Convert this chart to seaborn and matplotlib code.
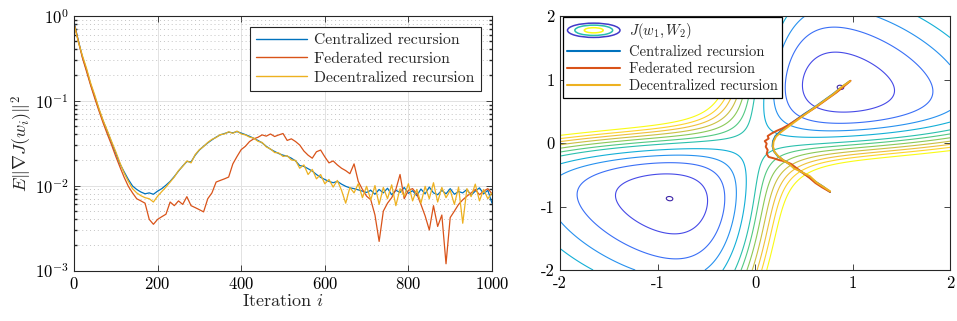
import numpy as np
import pandas as pd
import matplotlib
matplotlib.use("Agg")
import matplotlib.pyplot as plt
import seaborn as sns
from matplotlib.colors import LinearSegmentedColormap
from matplotlib.lines import Line2D
from matplotlib.patches import Ellipse
from matplotlib.legend_handler import HandlerBase
from matplotlib.ticker import LogLocator, NullFormatter, FixedLocator

# ------------------ DATA: left panel (mean-square gradient norm) ------------------
iters = list(range(0, 1001, 10))

centralized = [
    0.85, 0.52, 0.33, 0.23, 0.155, 0.11, 0.078, 0.057, 0.043, 0.032,
    0.024, 0.018, 0.0145, 0.0118, 0.0099, 0.0090, 0.0084, 0.0080, 0.0082, 0.0079,
    0.0086, 0.0092, 0.0101, 0.0112, 0.0128, 0.0148, 0.0170, 0.0192, 0.0190, 0.0228,
    0.0262, 0.0290, 0.0318, 0.0345, 0.0372, 0.0395, 0.0410, 0.0425, 0.0418, 0.0432,
    0.0415, 0.0398, 0.0380, 0.0360, 0.0340, 0.0318, 0.0290, 0.0268, 0.0252, 0.0238,
    0.0228, 0.0222, 0.0210, 0.0195, 0.0172, 0.0168, 0.0158, 0.0148, 0.0135, 0.0125,
    0.0118, 0.0112, 0.0108, 0.0112, 0.0104, 0.0098, 0.0094, 0.0092, 0.0089, 0.0086,
    0.0083, 0.0088, 0.0079, 0.0090, 0.0082, 0.0093, 0.0078, 0.0088, 0.0083, 0.0095,
    0.0081, 0.0087, 0.0076, 0.0091, 0.0080, 0.0096, 0.0082, 0.0078, 0.0088, 0.0080,
    0.0092, 0.0079, 0.0085, 0.0082, 0.0090, 0.0077, 0.0086, 0.0094, 0.0080, 0.0088,
    0.0062,
]

federated = [
    0.82, 0.51, 0.32, 0.22, 0.150, 0.105, 0.075, 0.054, 0.040, 0.030,
    0.022, 0.0165, 0.0125, 0.0098, 0.0082, 0.0070, 0.0066, 0.0062, 0.0040, 0.0035,
    0.0040, 0.0043, 0.0046, 0.0064, 0.0058, 0.0066, 0.0060, 0.0074, 0.0058, 0.0055,
    0.0052, 0.0049, 0.0070, 0.0082, 0.0110, 0.0115, 0.0120, 0.0126, 0.0180, 0.0220,
    0.0265, 0.0290, 0.0330, 0.0355, 0.0370, 0.0395, 0.0382, 0.0405, 0.0378, 0.0395,
    0.0410, 0.0340, 0.0355, 0.0330, 0.0300, 0.0255, 0.0228, 0.0210, 0.0250, 0.0262,
    0.0218, 0.0185, 0.0195, 0.0175, 0.0160, 0.0150, 0.0138, 0.0180, 0.0112, 0.0090,
    0.0075, 0.0068, 0.0045, 0.0022, 0.0050, 0.0062, 0.0072, 0.0090, 0.0135, 0.0070,
    0.0088, 0.0092, 0.0080, 0.0060, 0.0044, 0.0030, 0.0058, 0.0033, 0.0045, 0.0012,
    0.0042, 0.0050, 0.0060, 0.0068, 0.0075, 0.0082, 0.0090, 0.0078, 0.0086, 0.0092,
    0.0080,
]

decentralized = [
    0.80, 0.50, 0.34, 0.24, 0.16, 0.115, 0.080, 0.058, 0.044, 0.033,
    0.025, 0.0185, 0.0140, 0.0112, 0.0092, 0.0082, 0.0076, 0.0072, 0.0070, 0.0064,
    0.0075, 0.0085, 0.0096, 0.0110, 0.0126, 0.0150, 0.0168, 0.0195, 0.0185, 0.0232,
    0.0265, 0.0288, 0.0322, 0.0350, 0.0368, 0.0398, 0.0405, 0.0430, 0.0412, 0.0438,
    0.0405, 0.0395, 0.0372, 0.0362, 0.0332, 0.0322, 0.0285, 0.0270, 0.0245, 0.0242,
    0.0220, 0.0225, 0.0200, 0.0198, 0.0160, 0.0175, 0.0135, 0.0155, 0.0120, 0.0135,
    0.0105, 0.0118, 0.0096, 0.0115, 0.0088, 0.0062, 0.0095, 0.0082, 0.0105, 0.0072,
    0.0098, 0.0068, 0.0100, 0.0060, 0.0095, 0.0070, 0.0102, 0.0058, 0.0092, 0.0075,
    0.0105, 0.0066, 0.0090, 0.0062, 0.0098, 0.0070, 0.0108, 0.0064, 0.0095, 0.0072,
    0.0088, 0.0060, 0.0096, 0.0036, 0.0092, 0.0074, 0.0104, 0.0066, 0.0090, 0.0070,
    0.0082,
]

methods = ["Centralized recursion", "Federated recursion", "Decentralized recursion"]
method_colors = ["#0072BD", "#D95319", "#EDB120"]

# ------------------ DATA: right panel (trajectories over the cost surface) ------------------
cent_w1 = [0.77, 0.70, 0.62, 0.55, 0.48, 0.41, 0.34, 0.28, 0.23, 0.195, 0.18,
           0.185, 0.21, 0.26, 0.33, 0.41, 0.50, 0.60, 0.70, 0.80, 0.89, 0.97]
cent_w2 = [-0.77, -0.69, -0.61, -0.53, -0.46, -0.39, -0.32, -0.26, -0.20, -0.13, -0.05,
           0.03, 0.11, 0.18, 0.26, 0.35, 0.45, 0.55, 0.66, 0.77, 0.88, 0.97]

fed_w1 = [0.77, 0.69, 0.62, 0.56, 0.49, 0.43, 0.37, 0.31, 0.25, 0.19, 0.14, 0.12, 0.13, 0.11,
          0.12, 0.10, 0.14, 0.13, 0.17, 0.22, 0.28, 0.35, 0.44, 0.53, 0.63, 0.73, 0.83, 0.91, 0.98]
fed_w2 = [-0.77, -0.70, -0.63, -0.55, -0.47, -0.40, -0.33, -0.29, -0.27, -0.24, -0.22, -0.17, -0.11, -0.06,
          -0.01, 0.03, 0.07, 0.11, 0.15, 0.19, 0.23, 0.29, 0.38, 0.47, 0.57, 0.68, 0.79, 0.89, 0.98]

dec_w1 = [0.77, 0.71, 0.63, 0.56, 0.47, 0.40, 0.35, 0.29, 0.24, 0.20, 0.185,
          0.19, 0.215, 0.265, 0.335, 0.415, 0.505, 0.605, 0.705, 0.805, 0.895, 0.975]
dec_w2 = [-0.76, -0.70, -0.62, -0.52, -0.45, -0.40, -0.33, -0.27, -0.21, -0.14, -0.06,
          0.02, 0.10, 0.17, 0.25, 0.34, 0.44, 0.55, 0.66, 0.77, 0.89, 0.975]

# cost surface J(w1, W2) = (1 - tanh(k w1) tanh(k W2))^2 + rho (w1^2 + W2^2)
k_sat = 1.32
rho = 0.133
contour_levels = [0.3122, 0.42, 0.58, 0.74, 0.90, 1.08, 1.20, 1.33, 1.46, 1.59, 1.72, 1.87]

parula = LinearSegmentedColormap.from_list("parula", [
    (0.00, (0.2422, 0.1504, 0.6603)),
    (0.11, (0.2810, 0.3228, 0.9579)),
    (0.24, (0.1786, 0.5289, 0.9682)),
    (0.37, (0.0689, 0.6948, 0.8394)),
    (0.50, (0.2161, 0.7843, 0.5923)),
    (0.63, (0.5300, 0.7900, 0.3500)),
    (0.75, (0.8500, 0.7450, 0.2400)),
    (0.87, (0.9970, 0.7659, 0.2199)),
    (1.00, (0.9769, 0.9839, 0.0805)),
])


class ContourIconHandler(HandlerBase):
    def create_artists(self, legend, orig_handle, xdescent, ydescent, width, height, fontsize, trans):
        cx = width / 2 - xdescent
        cy = height / 2 - ydescent
        arts = []
        for scale, pos in [(1.0, 0.05), (0.72, 0.45), (0.36, 1.0)]:
            e = Ellipse((cx, cy), width * scale, height * 1.4 * scale, fill=False,
                        edgecolor=parula(pos), lw=1.1, transform=trans)
            arts.append(e)
        return arts


def main():
    sns.set_theme(style="ticks")
    plt.rcParams.update({
        "font.family": ["cmr10", "DejaVu Serif"],
        "mathtext.fontset": "cm",
        "axes.formatter.use_mathtext": True,
        "axes.unicode_minus": False,
        "axes.edgecolor": "#262626",
        "axes.linewidth": 0.8,
        "xtick.direction": "in",
        "ytick.direction": "in",
        "xtick.top": True,
        "ytick.right": True,
        "xtick.bottom": True,
        "ytick.left": True,
        "xtick.color": "#262626",
        "ytick.color": "#262626",
        "xtick.labelcolor": "black",
        "ytick.labelcolor": "black",
        "xtick.major.size": 4,
        "ytick.major.size": 4,
        "xtick.minor.size": 2,
        "ytick.minor.size": 2,
        "xtick.major.width": 0.6,
        "ytick.major.width": 0.6,
        "xtick.labelsize": 12,
        "ytick.labelsize": 12,
        "xtick.major.pad": 4,
        "ytick.major.pad": 4,
    })

    fig = plt.figure(figsize=(9.57, 3.21), dpi=100)
    ax1 = fig.add_axes([74 / 957, 1 - 270.5 / 321, 418 / 957, 254.8 / 321])
    ax2 = fig.add_axes([560 / 957, 1 - 270 / 321, 390 / 957, 254 / 321])

    # ---------- left panel ----------
    df = pd.DataFrame({
        "iteration": iters * 3,
        "value": centralized + federated + decentralized,
        "method": [m for m in methods for _ in iters],
    })
    sns.lineplot(data=df, x="iteration", y="value", hue="method", hue_order=methods,
                 palette=method_colors, estimator=None, lw=0.9, legend=False, ax=ax1)
    ax1.set_yscale("log")
    ax1.set_xlim(0, 1000)
    ax1.set_ylim(1e-3, 1e0)
    ax1.xaxis.set_major_locator(FixedLocator([0, 200, 400, 600, 800, 1000]))
    ax1.yaxis.set_major_locator(LogLocator(base=10, numticks=10))
    ax1.yaxis.set_minor_locator(LogLocator(base=10, subs=np.arange(2, 10), numticks=20))
    ax1.yaxis.set_minor_formatter(NullFormatter())
    ax1.grid(True, which="major", color="#e2e2e2", lw=0.7)
    ax1.grid(True, which="minor", axis="y", color="#c4c4c4", lw=0.7, ls=(0, (1, 3)))
    ax1.set_axisbelow(True)
    ax1.set_xlabel(r"Iteration $i$", fontsize=13, labelpad=1)
    ax1.set_ylabel(r"$E\|\nabla J(w_i)\|^2$", fontsize=13, labelpad=0)
    handles1 = [Line2D([], [], color=c, lw=1.0) for c in method_colors]
    leg1 = ax1.legend(handles1, methods, loc="upper right", bbox_to_anchor=(0.974, 0.956),
                      borderaxespad=0, fontsize=11.3, handlelength=3.2, handletextpad=0.5,
                      labelspacing=0.3, borderpad=0.4, fancybox=False, framealpha=1,
                      edgecolor="#262626")
    leg1.get_frame().set_linewidth(0.8)

    # ---------- right panel ----------
    w_grid = np.linspace(-2, 2, 401)
    W1, W2 = np.meshgrid(w_grid, w_grid)
    J = (1 - np.tanh(k_sat * W1) * np.tanh(k_sat * W2)) ** 2 + rho * (W1 ** 2 + W2 ** 2)
    level_colors = [parula(i / (len(contour_levels) - 1)) for i in range(len(contour_levels))]
    ax2.contour(W1, W2, J, levels=contour_levels, colors=level_colors, linewidths=0.8)

    traj = pd.DataFrame({
        "w1": cent_w1 + fed_w1 + dec_w1,
        "w2": cent_w2 + fed_w2 + dec_w2,
        "method": [methods[0]] * len(cent_w1) + [methods[1]] * len(fed_w1) + [methods[2]] * len(dec_w1),
    })
    sns.lineplot(data=traj, x="w1", y="w2", hue="method", hue_order=methods, palette=method_colors,
                 sort=False, estimator=None, lw=1.4, legend=False, ax=ax2)
    ax2.set_xlim(-2, 2)
    ax2.set_ylim(-2, 2)
    ticks = [-2, -1, 0, 1, 2]
    ax2.set_xticks(ticks)
    ax2.set_yticks(ticks)
    ax2.set_xticklabels([str(t) for t in ticks])
    ax2.set_yticklabels([str(t) for t in ticks])
    ax2.set_xlabel("")
    ax2.set_ylabel("")

    proxy = Ellipse((0, 0), 1, 1)
    handles2 = [proxy] + [Line2D([], [], color=c, lw=1.5) for c in method_colors]
    labels2 = [r"$J(w_1, W_2)$"] + methods
    leg2 = ax2.legend(handles2, labels2, loc="upper left", bbox_to_anchor=(0.008, 0.996),
                      borderaxespad=0, fontsize=10.5, handlelength=3.6, handletextpad=0.6,
                      labelspacing=0.25, borderpad=0.3, fancybox=False, framealpha=1,
                      edgecolor="black", handler_map={proxy: ContourIconHandler()})
    leg2.get_frame().set_linewidth(0.9)

    fig.savefig("out.png", dpi=100)
    plt.close(fig)


if __name__ == "__main__":
    main()
